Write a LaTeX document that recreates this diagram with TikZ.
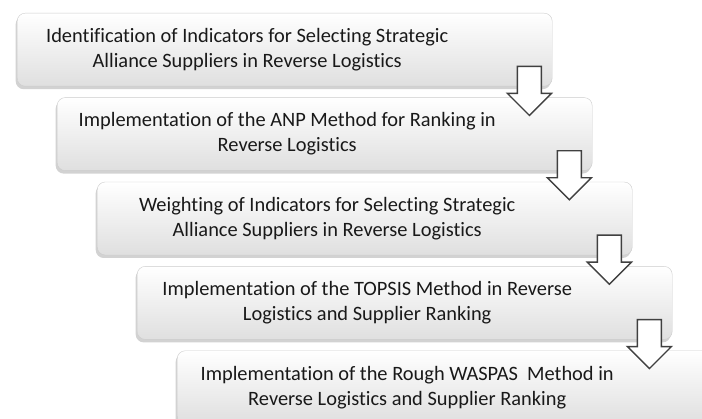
\documentclass[tikz,border=0pt]{standalone}
\usepackage{fontspec}
\setmainfont{Carlito}[Ligatures=NoCommon]
\usetikzlibrary{positioning,shadows}

\begin{document}
\begin{tikzpicture}[
	node distance=11pt and 40pt,
	stepbox/.style={rectangle, rounded corners=8pt, draw=gray!40, thin,
		top color=white, middle color=white, bottom color=gray!25,
		minimum width=535pt, minimum height=73pt, inner xsep=2.5pt, inner ysep=0pt,
		text=black!90, font=\fontsize{20.4}{25}\selectfont,
		drop shadow={shadow xshift=-1.5pt, shadow yshift=-3pt, opacity=0.35, fill=gray},
		execute at begin node={\begin{minipage}{455pt}\centering},
		execute at end node={\end{minipage}\hspace{75pt}}},
	flowarrow/.style={draw=black!75, line width=1.4pt, fill=white, line join=miter}
	]
	\path[use as bounding box, fill=white] (0,0) rectangle (702pt,-419pt);
	\node[stepbox, anchor=north west] (b1) at (17pt,-13pt)
		{Identification of Indicators for Selecting Strategic\\ Alliance Suppliers in Reverse Logistics};
	\node[stepbox] (b2) [below right=of b1.south west]
		{Implementation of the ANP Method for Ranking in\\ Reverse Logistics};
	\node[stepbox] (b3) [below right=of b2.south west]
		{Weighting of Indicators for Selecting Strategic\\ Alliance Suppliers in Reverse Logistics};
	\node[stepbox] (b4) [below right=of b3.south west]
		{Implementation of the TOPSIS Method in Reverse\\ Logistics and Supplier Ranking};
	\node[stepbox] (b5) [below right=of b4.south west]
		{Implementation of the Rough WASPAS~ Method in\\ Reverse Logistics and Supplier Ranking};
	% block arrows between the steps
	\foreach \i in {1,...,4}
		\draw[flowarrow] ([xshift=-35pt,yshift=20pt]b\i.south east) -- ++(24pt,0) -- ++(0,-27pt)
			-- ++(10pt,0) -- ++(-22pt,-22pt) -- ++(-22pt,22pt) -- ++(10pt,0) -- cycle;
\end{tikzpicture}
\end{document}
